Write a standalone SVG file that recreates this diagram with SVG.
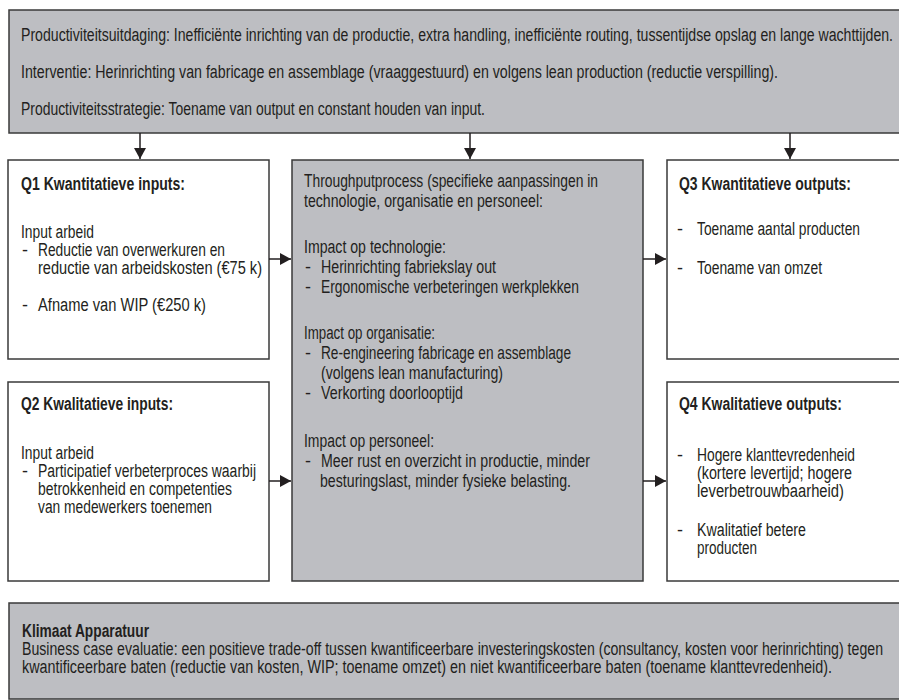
<svg xmlns="http://www.w3.org/2000/svg" width="899" height="700" viewBox="0 0 899 700">
<style>
.box{stroke:#3a3a3a;stroke-width:1.5}
.g{fill:#bdbec2}
.w{fill:#ffffff}
.t{font-family:"Liberation Sans",Arial,sans-serif;font-size:18px;fill:#231f20}
.b{font-weight:bold}
.c{stroke:#231f20;stroke-width:1.5;fill:none;marker-end:url(#ah)}
</style>
<defs>
<marker id="ah" markerUnits="userSpaceOnUse" markerWidth="12" markerHeight="12" refX="11" refY="6" orient="auto">
<path d="M0,0 L11,6 L0,12 Z" fill="#231f20"/>
</marker>
</defs>
<rect width="899" height="700" fill="#ffffff"/>
<g id="top">
<rect class="box g" x="9" y="10" width="905" height="123"/>
<text class="t" x="21" y="41" textLength="872" lengthAdjust="spacingAndGlyphs">Productiviteitsuitdaging: Inefficiënte inrichting van de productie, extra handling, inefficiënte routing, tussentijdse opslag en lange wachttijden.</text>
<text class="t" x="21" y="78" textLength="757" lengthAdjust="spacingAndGlyphs">Interventie: Herinrichting van fabricage en assemblage (vraaggestuurd) en volgens lean production (reductie verspilling).</text>
<text class="t" x="21" y="115" textLength="464" lengthAdjust="spacingAndGlyphs">Productiviteitsstrategie: Toename van output en constant houden van input.</text>
</g>
<g id="q1">
<rect class="box w" x="8" y="160" width="261" height="199"/>
<text class="t b" x="21" y="190" textLength="164" lengthAdjust="spacingAndGlyphs">Q1 Kwantitatieve inputs:</text>
<text class="t" x="21" y="238" textLength="73" lengthAdjust="spacingAndGlyphs">Input arbeid</text>
<text class="t" x="22" y="256">-</text>
<text class="t" x="38" y="256" textLength="187" lengthAdjust="spacingAndGlyphs">Reductie van overwerkuren en</text>
<text class="t" x="38" y="274" textLength="224" lengthAdjust="spacingAndGlyphs">reductie van arbeidskosten (€75 k)</text>
<text class="t" x="22" y="311">-</text>
<text class="t" x="38" y="311" textLength="168" lengthAdjust="spacingAndGlyphs">Afname van WIP (€250 k)</text>
</g>
<g id="q2">
<rect class="box w" x="8" y="382" width="261" height="199"/>
<text class="t b" x="21" y="410" textLength="152" lengthAdjust="spacingAndGlyphs">Q2 Kwalitatieve inputs:</text>
<text class="t" x="21" y="459" textLength="73" lengthAdjust="spacingAndGlyphs">Input arbeid</text>
<text class="t" x="22" y="477">-</text>
<text class="t" x="38" y="477" textLength="218" lengthAdjust="spacingAndGlyphs">Participatief verbeterproces waarbij</text>
<text class="t" x="38" y="495" textLength="194" lengthAdjust="spacingAndGlyphs">betrokkenheid en competenties</text>
<text class="t" x="38" y="513" textLength="174" lengthAdjust="spacingAndGlyphs">van medewerkers toenemen</text>
</g>
<g id="throughput">
<rect class="box g" x="292" y="160" width="351" height="421"/>
<text class="t" x="304" y="187" textLength="294" lengthAdjust="spacingAndGlyphs">Throughputprocess (specifieke aanpassingen in</text>
<text class="t" x="304" y="207" textLength="239" lengthAdjust="spacingAndGlyphs">technologie, organisatie en personeel:</text>
<text class="t" x="304" y="253" textLength="142" lengthAdjust="spacingAndGlyphs">Impact op technologie:</text>
<text class="t" x="305" y="273">-</text>
<text class="t" x="321" y="273" textLength="175" lengthAdjust="spacingAndGlyphs">Herinrichting fabriekslay out</text>
<text class="t" x="305" y="293">-</text>
<text class="t" x="321" y="293" textLength="258" lengthAdjust="spacingAndGlyphs">Ergonomische verbeteringen werkplekken</text>
<text class="t" x="304" y="339" textLength="131" lengthAdjust="spacingAndGlyphs">Impact op organisatie:</text>
<text class="t" x="305" y="359">-</text>
<text class="t" x="321" y="359" textLength="250" lengthAdjust="spacingAndGlyphs">Re-engineering fabricage en assemblage</text>
<text class="t" x="321" y="379" textLength="182" lengthAdjust="spacingAndGlyphs">(volgens lean manufacturing)</text>
<text class="t" x="305" y="399">-</text>
<text class="t" x="321" y="399" textLength="142" lengthAdjust="spacingAndGlyphs">Verkorting doorlooptijd</text>
<text class="t" x="304" y="447" textLength="130" lengthAdjust="spacingAndGlyphs">Impact op personeel:</text>
<text class="t" x="305" y="467">-</text>
<text class="t" x="321" y="467" textLength="269" lengthAdjust="spacingAndGlyphs">Meer rust en overzicht in productie, minder</text>
<text class="t" x="320" y="487" textLength="251" lengthAdjust="spacingAndGlyphs">besturingslast, minder fysieke belasting.</text>
</g>
<g id="q3">
<rect class="box w" x="667" y="160" width="250" height="199"/>
<text class="t b" x="679" y="190" textLength="172" lengthAdjust="spacingAndGlyphs">Q3 Kwantitatieve outputs:</text>
<text class="t" x="677" y="235">-</text>
<text class="t" x="697" y="235" textLength="163" lengthAdjust="spacingAndGlyphs">Toename aantal producten</text>
<text class="t" x="677" y="274">-</text>
<text class="t" x="697" y="274" textLength="125" lengthAdjust="spacingAndGlyphs">Toename van omzet</text>
</g>
<g id="q4">
<rect class="box w" x="667" y="382" width="250" height="199"/>
<text class="t b" x="679" y="410" textLength="163" lengthAdjust="spacingAndGlyphs">Q4 Kwalitatieve outputs:</text>
<text class="t" x="677" y="461">-</text>
<text class="t" x="697" y="461" textLength="158" lengthAdjust="spacingAndGlyphs">Hogere klanttevredenheid</text>
<text class="t" x="697" y="479" textLength="155" lengthAdjust="spacingAndGlyphs">(kortere levertijd; hogere</text>
<text class="t" x="697" y="497" textLength="147" lengthAdjust="spacingAndGlyphs">leverbetrouwbaarheid)</text>
<text class="t" x="677" y="536">-</text>
<text class="t" x="697" y="536" textLength="109" lengthAdjust="spacingAndGlyphs">Kwalitatief betere</text>
<text class="t" x="697" y="554" textLength="60" lengthAdjust="spacingAndGlyphs">producten</text>
</g>
<g id="bottom">
<rect class="box g" x="9" y="603" width="905" height="96"/>
<text class="t b" x="22" y="637" textLength="127" lengthAdjust="spacingAndGlyphs">Klimaat Apparatuur</text>
<text class="t" x="22" y="655" textLength="861" lengthAdjust="spacingAndGlyphs">Business case evaluatie: een positieve trade-off tussen kwantificeerbare investeringskosten (consultancy, kosten voor herinrichting) tegen</text>
<text class="t" x="22" y="673" textLength="810" lengthAdjust="spacingAndGlyphs">kwantificeerbare baten (reductie van kosten, WIP; toename omzet) en niet kwantificeerbare baten (toename klanttevredenheid).</text>
</g>
<g id="connectors">
<line class="c" x1="140" y1="133" x2="140" y2="159"/>
<line class="c" x1="470" y1="133" x2="470" y2="159"/>
<line class="c" x1="790" y1="133" x2="790" y2="159"/>
<line class="c" x1="269" y1="259" x2="291" y2="259"/>
<line class="c" x1="269" y1="481" x2="291" y2="481"/>
<line class="c" x1="643" y1="259" x2="666" y2="259"/>
<line class="c" x1="643" y1="481" x2="666" y2="481"/>
</g>
</svg>
